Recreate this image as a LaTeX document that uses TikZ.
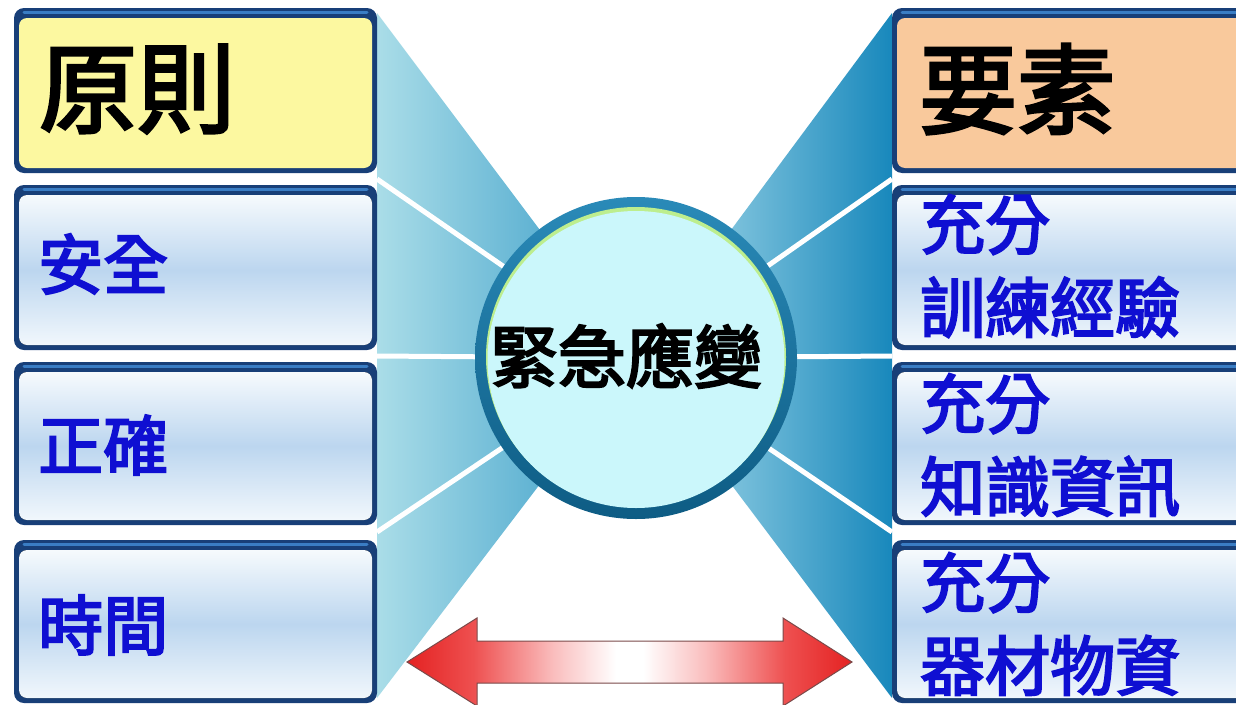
\documentclass[tikz,border=0pt]{standalone}
\usepackage{fontspec}
\newfontfamily\cjk{Noto Sans CJK TC}[FakeBold=3.2]
\definecolor{navy}{HTML}{183F78}
\definecolor{navyglow}{HTML}{3A7DC4}
\definecolor{ytop}{HTML}{FCF8A0}
\definecolor{otop}{HTML}{F9C99C}
\definecolor{btop}{HTML}{F6FAFD}
\definecolor{bmid}{HTML}{BCD6EF}
\definecolor{bbot}{HTML}{F1F7FC}
\definecolor{fanLa}{HTML}{AADDE8}
\definecolor{fanLb}{HTML}{3399C6}
\definecolor{fanRa}{HTML}{B5E2EE}
\definecolor{fanRb}{HTML}{1888BC}
\definecolor{ringtop}{HTML}{2A8AB8}
\definecolor{ringbot}{HTML}{0E5C84}
\definecolor{ringgreen}{HTML}{BDEE8E}
\definecolor{hubfill}{HTML}{CBF7FB}
\definecolor{txtblue}{HTML}{0F0FD2}
\definecolor{arrR}{RGB}{228,34,34}
\definecolor{arrM}{RGB}{238,80,80}
\definecolor{arrP}{RGB}{250,190,190}
\definecolor{arrline}{HTML}{7A4A4A}
\pgfdeclarehorizontalshading{redfade}{100bp}{color(0bp)=(arrR); color(25bp)=(arrR); color(32.5bp)=(arrM); color(41.5bp)=(arrP); color(48.5bp)=(white); color(51.5bp)=(white); color(58.5bp)=(arrP); color(67.5bp)=(arrM); color(75bp)=(arrR); color(100bp)=(arrR)}
\tikzset{
  frameout/.style={fill=navy, rounded corners=10pt},
  frameglow/.style={draw=navyglow, line width=3pt, line cap=round},
  yellowin/.style={fill=ytop, rounded corners=8pt},
  orangein/.style={fill=otop, rounded corners=8pt},
  bluein/.style={top color=btop, bottom color=bbot, middle color=bmid, rounded corners=8pt},
  headtxt/.style={font=\cjk\fontsize{98}{98}\selectfont, text=black, anchor=west, inner sep=0pt},
  itemtxt/.style={font=\cjk\fontsize{65}{83}\selectfont, text=txtblue, anchor=west, inner sep=0pt, align=left},
  hubtxtstyle/.style={font=\cjk\fontsize{68}{68}\selectfont, text=black, inner sep=0pt},
  ray/.style={draw=white, line width=5pt},
  bigarrow/.style={shading=redfade, draw=arrline, line width=1pt, line join=miter},
}
\newcommand\mypanel[5]{%
  \fill[frameout] (#1,#2) rectangle (#3,#4);
  \draw[frameglow] ({#1+10},{#2+4.5}) -- ({#3-10},{#2+4.5});
  \fill[#5] ({#1+5},{#2+10}) rectangle ({#3-5},{#4-5});
}
\begin{document}
\begin{tikzpicture}[x=1pt,y=-1pt]
\useasboundingbox (0,0) rectangle (1236,704);
\clip (0,0) rectangle (1236,704);
\fill[white] (0,0) rectangle (1236,704);
% hub centre and fan corners
\coordinate (c) at (636,358);
\coordinate (L0) at (377,13);
\coordinate (L1) at (377,179);
\coordinate (L2) at (377,356);
\coordinate (L3) at (377,532);
\coordinate (L4) at (377,698);
\coordinate (R0) at (892,13);
\coordinate (R1) at (892,179);
\coordinate (R2) at (892,356);
\coordinate (R3) at (892,532);
\coordinate (R4) at (892,698);
% fans
\shade[left color=fanLa, right color=fanLb] (L0) -- (c) -- (L4) -- cycle;
\shade[left color=fanRa, right color=fanRb] (R0) -- (c) -- (R4) -- cycle;
% white rays
\draw[ray] (L1) -- (c);
\draw[ray] (L2) -- (c);
\draw[ray] (L3) -- (c);
\draw[ray] (R1) -- (c);
\draw[ray] (R2) -- (c);
\draw[ray] (R3) -- (c);
% left panels
\mypanel{14}{8}{377}{173}{yellowin}
\mypanel{14}{185}{377}{350}{bluein}
\mypanel{14}{362}{377}{525}{bluein}
\mypanel{14}{540}{377}{703}{bluein}
% right panels
\mypanel{892}{8}{1262}{173}{orangein}
\mypanel{892}{185}{1262}{350}{bluein}
\mypanel{892}{362}{1262}{525}{bluein}
\mypanel{892}{540}{1262}{703}{bluein}
% hub
\node[circle, minimum size=322pt, inner sep=0pt, top color=ringtop, bottom color=ringbot] (hub) at (c) {};
\fill[ringgreen] (636,357) circle (150pt);
\fill[hubfill] (636,359.5) circle (148.5pt);
\node[hubtxtstyle] (hubtxt) at (626,356) {緊急應變};
% texts
\node[headtxt] (p0) at (39,89) {原則};
\node[itemtxt] (p1) at (38,264) {安全};
\node[itemtxt] (p2) at (38,445) {正確};
\node[itemtxt] (p3) at (38,625) {時間};
\node[headtxt] (e0) at (919,89) {要素};
\node[itemtxt] (e1) at (920,266) {充分\\訓練經驗};
\node[itemtxt] (e2) at (920,445) {充分\\知識資訊};
\node[itemtxt] (e3) at (920,624) {充分\\器材物資};
% double arrow
\draw[bigarrow] (407,662) -- (477,618) -- (477,641) -- (783,641) -- (783,618) -- (852,662) -- (783,706) -- (783,683) -- (477,683) -- (477,706) -- cycle;
\end{tikzpicture}
\end{document}
